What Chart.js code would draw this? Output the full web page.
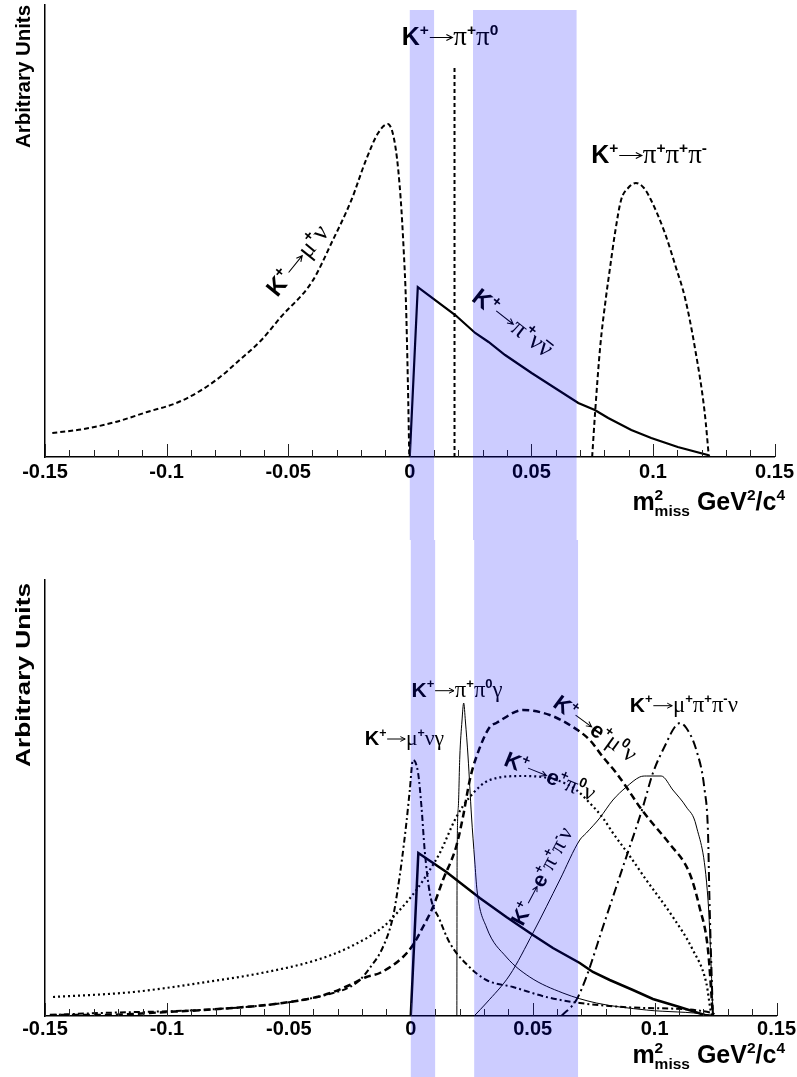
<!DOCTYPE html>
<html>
<head>
<meta charset="utf-8">
<script src="https://cdn.jsdelivr.net/npm/chart.js@4.4.0/dist/chart.umd.min.js"></script>
<style>
    html, body { margin: 0; padding: 0; background: #fff; }
    #wrap { position: relative; width: 797px; height: 1077px; }
    #wrap canvas { position: absolute; left: 0; }
</style>
</head>
<body>
<div id="wrap">
    <canvas id="topChart" width="797" height="540" style="top:0"></canvas>
    <canvas id="botChart" width="797" height="537" style="top:540px"></canvas>
</div>
<script>
// ============================================================
// Missing-mass spectra of K+ decays (two panels)
// ============================================================

// ── x axis ──────────────────────────────────────────────────
const xMin = -0.15, xMax = 0.15;
const xMajorTicks = [-0.15, -0.1, -0.05, 0, 0.05, 0.1, 0.15];
const xTickLabels = ['-0.15', '-0.1', '-0.05', '0', '0.05', '0.1', '0.15'];
const signalBands = [[0, 0.01], [0.026, 0.0686]];

// ── upper panel (arbitrary units) ───────────────────────────
const topYMax = 45.2;
const muNuX   = [-0.147, -0.134, -0.121, -0.108, -0.096, -0.087, -0.078, -0.070, -0.061, -0.053, -0.040, -0.032, -0.024, -0.018, -0.013, -0.009, -0.0057, -0.0037, -0.0025, -0.0016, -0.0008, -0.0002];
const muNuY   = [2.4, 2.8, 3.5, 4.5, 5.4, 6.5, 8.0, 9.7, 11.7, 14.0, 17.6, 21.5, 25.7, 29.7, 32.4, 33.3, 30.7, 25.7, 20.7, 15.7, 7.7, 0];
const pipi0X  = [0.0184, 0.0184];
const pipi0Y  = [0, 39.0];
const pipipiX = [0.0750, 0.0762, 0.0783, 0.0807, 0.0824, 0.0844, 0.0869, 0.0898, 0.0930, 0.0963, 0.0992, 0.1049, 0.1094, 0.1131, 0.1172, 0.1213, 0.1230];
const pipipiY = [0, 4.4, 11.0, 16.0, 19.0, 22.4, 25.7, 26.9, 27.4, 26.9, 25.7, 22.4, 19.0, 16.0, 11.0, 4.4, 0];
const nunuTopX = [0, 0.0033, 0.0187, 0.0269, 0.0324, 0.0392, 0.0501, 0.0597, 0.0693, 0.0761, 0.0816, 0.0911, 0.0993, 0.1102, 0.1225, 0.1234];
const nunuTopY = [0, 17.0, 14.2, 12.4, 11.5, 10.2, 8.4, 6.9, 5.4, 4.7, 3.9, 2.7, 1.9, 1.0, 0.2, 0];

// ── lower panel (arbitrary units) ───────────────────────────
const botYMax = 43.6;
const nunuBotX = [0, 0.0031, 0.0146, 0.0283, 0.0392, 0.0501, 0.0583, 0.0693, 0.0747, 0.0816, 0.0911, 0.0993, 0.1102, 0.1205, 0.1232];
const nunuBotY = [0, 16.3, 14.4, 11.8, 9.9, 8.1, 6.8, 5.3, 4.4, 3.6, 2.6, 1.7, 0.9, 0.1, 0];
const pipi0gX  = [0.0189, 0.0190, 0.0195, 0.0201, 0.0210, 0.0217, 0.0224, 0.0235, 0.0249, 0.0262, 0.0272, 0.0310, 0.0392, 0.0488, 0.0624, 0.0761, 0.0966, 0.1225, 0.1240];
const pipi0gY  = [0, 15.6, 20.9, 25.9, 29.5, 31.3, 29.5, 25.9, 20.0, 15.6, 12.5, 8.9, 5.9, 3.9, 2.3, 1.3, 0.6, 0.1, 0];
const epipinuX = [0.026, 0.031, 0.0406, 0.0501, 0.0611, 0.0693, 0.072, 0.0775, 0.0829, 0.0884, 0.0939, 0.0966, 0.1027, 0.1075, 0.113, 0.1171, 0.1219, 0.1232, 0.1239];
const epipinuY = [0, 1.3, 4.1, 8.3, 13.6, 17.6, 18.3, 19.8, 21.6, 22.9, 23.9, 24.0, 24.0, 22.6, 20.9, 19.0, 11.6, 4.9, 0];
const mupipinuX = [0.0618, 0.0679, 0.072, 0.0788, 0.087, 0.0952, 0.0993, 0.1048, 0.1080, 0.1105, 0.1130, 0.1171, 0.1205, 0.1219, 0.1225, 0.1239];
const mupipinuY = [0, 1.6, 3.9, 8.9, 14.9, 20.9, 24.3, 27.3, 28.8, 29.3, 28.8, 26.6, 22.6, 18.3, 11.6, 0];
const emu0nuX = [-0.148, -0.1275, -0.1, -0.073, -0.0525, -0.0386, -0.0318, -0.025, -0.0182, -0.0127, -0.0032, 0.0009, 0.005, 0.0091, 0.0132, 0.0187, 0.0214, 0.0242, 0.0269, 0.0324, 0.0351, 0.046, 0.057, 0.0665, 0.0734, 0.0788, 0.0843, 0.0884, 0.0939, 0.098, 0.1062, 0.1143, 0.1184, 0.1219, 0.1239];
const emu0nuY = [0.1, 0.1, 0.4, 0.8, 1.3, 1.9, 2.4, 3.1, 3.9, 4.3, 5.9, 7.1, 8.9, 10.9, 13.6, 17.0, 19.9, 23.6, 25.9, 28.9, 29.3, 30.6, 30.1, 28.9, 27.6, 25.9, 24.3, 22.9, 20.9, 19.6, 17.2, 14.3, 10.9, 6.6, 0];
const epi0nuX = [-0.1467, -0.1138, -0.0865, -0.0591, -0.0386, -0.025, -0.0114, -0.0045, 0.0023, 0.0078, 0.0119, 0.0187, 0.0242, 0.0324, 0.046, 0.0597, 0.0679, 0.0734, 0.0788, 0.0829, 0.0898, 0.0966, 0.1075, 0.1157, 0.1212, 0.1232, 0.1239];
const epi0nuY = [1.9, 2.4, 3.3, 4.4, 5.6, 6.9, 8.9, 10.6, 12.6, 14.6, 16.3, 19.9, 21.9, 23.6, 24.0, 23.6, 22.6, 21.3, 19.8, 18.3, 16.0, 13.6, 9.9, 6.6, 3.3, 0.3, 0];
const munugX = [-0.148, -0.1275, -0.0865, -0.0523, -0.0318, -0.025, -0.0209, -0.0168, -0.0114, -0.0073, -0.0052, -0.0038, -0.0018, -0.0004, 0.0009, 0.003, 0.0044, 0.0057, 0.0078, 0.0119, 0.016, 0.0228, 0.031, 0.0419, 0.0556, 0.0693, 0.0966, 0.1238, 0.125];
const munugY = [0.1, 0.3, 0.6, 1.3, 2.3, 2.9, 3.6, 4.8, 6.9, 9.9, 12.9, 15.3, 19.3, 22.6, 25.6, 24.3, 20.9, 16.6, 12.3, 9.6, 7.3, 5.2, 3.6, 2.9, 1.9, 1.3, 0.8, 0.3, 0];

// ── decay labels: markup, anchor (data units), size, angle ──
const topLabels = [
    { text: 'K^{+}→π^{+}π^{0}',        x: -0.0033, y: 41.2, size: 25, angle: 0 },
    { text: 'K^{+}→π^{+}π^{+}π^{-}',   x: 0.0746,  y: 29.4, size: 25, angle: 0 },
    { text: 'K^{+}→μ^{+}ν',            x: -0.0545, y: 15.9, size: 24, angle: -51 },
    { text: 'K^{+}→π^{+}ν~{ν}',        x: 0.025,   y: 15.7, size: 24, angle: 38 }
];
const botLabels = [
    { text: 'K^{+}→π^{+}π^{0}γ',       x: 0.0003,  y: 31.9, size: 21, angle: 0 },
    { text: 'K^{+}→μ^{+}νγ',           x: -0.0189, y: 27.1, size: 20, angle: 0 },
    { text: 'K^{+}→μ^{+}π^{+}π^{-}ν',  x: 0.0898,  y: 30.4, size: 21, angle: 0 },
    { text: 'K^{+}→e^{+}μ^{0}ν',       x: 0.0578,  y: 31.0, size: 22, angle: 36 },
    { text: 'K^{+}→e^{+}π^{0}ν',       x: 0.0377,  y: 25.1, size: 22, angle: 22 },
    { text: 'K^{+}→e^{+}π^{+}π^{-}ν',  x: 0.0459,  y: 8.9,  size: 21, angle: -62 }
];
const xTitle = 'm^{2}_{miss} GeV^{2}/c^{4}';
const yTitle = 'Arbitrary Units';

const SANS  = '"Liberation Sans", Arial, Helvetica, sans-serif';
const SERIF = '"Liberation Serif", "DejaVu Serif", "Times New Roman", serif';

const zip = (xs, ys) => xs.map((x, i) => ({ x, y: ys[i] }));

// ── tiny rich-text renderer (sup / sub / overbar / arrow) ───
function parseRich(s) {
    const out = [];
    const re = /\^\{([^}]*)\}|_\{([^}]*)\}|~\{([^}]*)\}|[\s\S]/gu;
    let m;
    while ((m = re.exec(s))) {
        if (m[1] !== undefined)      out.push({ t: m[1], k: 'sup' });
        else if (m[2] !== undefined) out.push({ t: m[2], k: 'sub' });
        else if (m[3] !== undefined) out.push({ t: m[3], k: 'bar' });
        else if (m[0] === '→')       out.push({ t: m[0], k: 'arrow' });
        else                         out.push({ t: m[0], k: 'n' });
    }
    return out;
}

const isLatin = (ch) => /^[A-Za-z0-9 \/+\-]+$/.test(ch);
const fontFor = (ch, size) =>
    isLatin(ch) ? `bold ${size}px ${SANS}` : `${size * 1.08}px ${SERIF}`;

function layoutRich(ctx, s, size) {
    const items = [];
    let cx = 0, supStart = 0, supEnd = 0, prevSup = false;
    for (const tok of parseRich(s)) {
        if (tok.k === 'arrow') {
            const w = size * 0.98;
            items.push({ arrow: true, x: cx, w });
            cx += w;
            prevSup = false;
        } else if (tok.k === 'n' || tok.k === 'bar') {
            const font = fontFor(tok.t, size);
            ctx.font = font;
            const w = ctx.measureText(tok.t).width;
            items.push({ t: tok.t, font, x: cx, dy: 0, w, bar: tok.k === 'bar' });
            cx += w;
            prevSup = false;
        } else {
            const font = `bold ${size * 0.62}px ${SANS}`;
            ctx.font = font;
            const w = ctx.measureText(tok.t).width;
            if (tok.k === 'sub' && prevSup) cx = supStart;
            items.push({ t: tok.t, font, x: cx, dy: tok.k === 'sup' ? -size * 0.42 : size * 0.24, w });
            if (tok.k === 'sup') {
                supStart = cx; cx += w; supEnd = cx; prevSup = true;
            } else {
                cx = Math.max(cx + w, prevSup ? supEnd : 0);
                prevSup = false;
            }
        }
    }
    return { items, width: cx };
}

function drawRich(ctx, s, x, y, size, angle = 0, align = 'left') {
    const { items, width } = layoutRich(ctx, s, size);
    ctx.save();
    ctx.translate(x, y);
    ctx.rotate(angle * Math.PI / 180);
    const off = align === 'right' ? -width : 0;
    ctx.fillStyle = '#000';
    ctx.strokeStyle = '#000';
    ctx.textAlign = 'left';
    ctx.textBaseline = 'alphabetic';
    items.forEach(it => {
        if (it.arrow) {
            const ay = -size * 0.3, x0 = off + it.x + it.w * 0.04, x1 = off + it.x + it.w * 0.96;
            ctx.lineWidth = Math.max(1, size * 0.045);
            ctx.beginPath();
            ctx.moveTo(x0, ay); ctx.lineTo(x1, ay);
            ctx.moveTo(x1 - size * 0.24, ay - size * 0.12); ctx.lineTo(x1, ay); ctx.lineTo(x1 - size * 0.24, ay + size * 0.12);
            ctx.stroke();
            return;
        }
        ctx.font = it.font;
        ctx.fillText(it.t, off + it.x, it.dy);
        if (it.bar) ctx.fillRect(off + it.x + it.w * 0.1, -size * 0.66, it.w * 0.8, Math.max(1.3, size * 0.06));
    });
    ctx.restore();
}

function drawStretched(ctx, text, x, yStart, yEnd, size) {
    ctx.save();
    ctx.font = `bold ${size}px ${SANS}`;
    ctx.fillStyle = '#000';
    ctx.textAlign = 'left';
    ctx.textBaseline = 'alphabetic';
    const w = ctx.measureText(text).width;
    ctx.translate(x, yStart);
    ctx.rotate(-Math.PI / 2);
    ctx.scale((yStart - yEnd) / w, 1);
    ctx.fillText(text, 0, 0);
    ctx.restore();
}

// ── decorations: inside ticks, labels, titles, bands ────────
const decor = {
    id: 'decor',
    afterDraw(chart, args, opts) {
        const { ctx, chartArea, scales: { x, y } } = chart;

        // ticks pointing into the frame
        ctx.save();
        ctx.strokeStyle = '#222';
        ctx.lineWidth = 1;
        x.ticks.forEach(t => {
            const px = Math.round(x.getPixelForValue(t.value)) + 0.5;
            const len = t.label ? 13 : 7;
            ctx.beginPath();
            ctx.moveTo(px, chartArea.bottom);
            ctx.lineTo(px, chartArea.bottom - len);
            ctx.stroke();
        });
        ctx.restore();

        opts.labels.forEach(l =>
            drawRich(ctx, l.text, x.getPixelForValue(l.x), y.getPixelForValue(l.y), l.size, l.angle));

        drawRich(ctx, xTitle, 785, opts.xTitleY, 25, 0, 'right');
        drawStretched(ctx, yTitle, 30, opts.yTitleFrom, opts.yTitleTo, 21);

        // translucent blue signal regions, laid over everything
        ctx.save();
        ctx.fillStyle = 'rgba(0,0,255,0.2)';
        signalBands.forEach(([a, b]) => {
            const x0 = x.getPixelForValue(a), x1 = x.getPixelForValue(b);
            ctx.fillRect(x0, opts.bandTop, x1 - x0, chart.height - opts.bandTop);
        });
        ctx.restore();
    }
};

function lineSet(xs, ys, width, dash, smooth = true) {
    return {
        data: zip(xs, ys),
        borderColor: '#000',
        borderWidth: width,
        borderDash: dash || [],
        pointRadius: 0,
        cubicInterpolationMode: smooth ? 'monotone' : 'default',
        tension: 0,
        fill: false
    };
}

function makePanel(canvasId, datasets, yMax, padding, tickPad, decorOpts) {
    return new Chart(document.getElementById(canvasId).getContext('2d'), {
        type: 'line',
        data: { datasets },
        options: {
            responsive: false,
            animation: false,
            events: [],
            layout: { padding },
            plugins: { legend: { display: false }, tooltip: { enabled: false }, decor: decorOpts },
            scales: {
                x: {
                    type: 'linear',
                    min: xMin,
                    max: xMax,
                    afterFit: (s) => { s.height = 40; },
                    grid: { display: false, drawTicks: false },
                    border: { display: true, color: '#000', width: 1.5 },
                    ticks: {
                        stepSize: 0.01,
                        autoSkip: false,
                        maxRotation: 0,
                        padding: tickPad,
                        color: '#000',
                        font: { family: SANS, size: 20, weight: 'bold' },
                        callback: (v) => {
                            const i = xMajorTicks.findIndex(m => Math.abs(m - v) < 1e-6);
                            return i >= 0 ? xTickLabels[i] : '';
                        }
                    }
                },
                y: {
                    min: 0,
                    max: yMax,
                    grid: { display: false, drawTicks: false },
                    border: { display: true, color: '#000', width: 1.5 },
                    ticks: { display: false }
                }
            }
        },
        plugins: [decor]
    });
}

// ── upper panel ─────────────────────────────────────────────
makePanel('topChart', [
    lineSet(muNuX, muNuY, 2, [5, 3]),
    lineSet(pipi0X, pipi0Y, 2, [4, 3], false),
    lineSet(pipipiX, pipipiY, 2, [5, 3]),
    lineSet(nunuTopX, nunuTopY, 2.2, null, false)
], topYMax, { left: 45, right: 20, top: 5, bottom: 43 }, 3, {
    labels: topLabels, xTitleY: 510, yTitleFrom: 148, yTitleTo: 5, bandTop: 10
});

// ── lower panel ─────────────────────────────────────────────
makePanel('botChart', [
    lineSet(munugX, munugY, 2, [6, 3, 2, 3]),
    lineSet(epi0nuX, epi0nuY, 2.2, [2, 3]),
    lineSet(emu0nuX, emu0nuY, 2.5, [7, 4]),
    lineSet(mupipinuX, mupipinuY, 2, [9, 4, 2, 4]),
    lineSet(epipinuX, epipinuY, 1),
    lineSet(pipi0gX, pipi0gY, 1),
    lineSet(nunuBotX, nunuBotY, 2.5, null, false)
], botYMax, { left: 45, right: 20, top: 40, bottom: 21 }, 1, {
    labels: botLabels, xTitleY: 523, yTitleFrom: 227, yTitleTo: 43, bandTop: 0
});
</script>
</body>
</html>
